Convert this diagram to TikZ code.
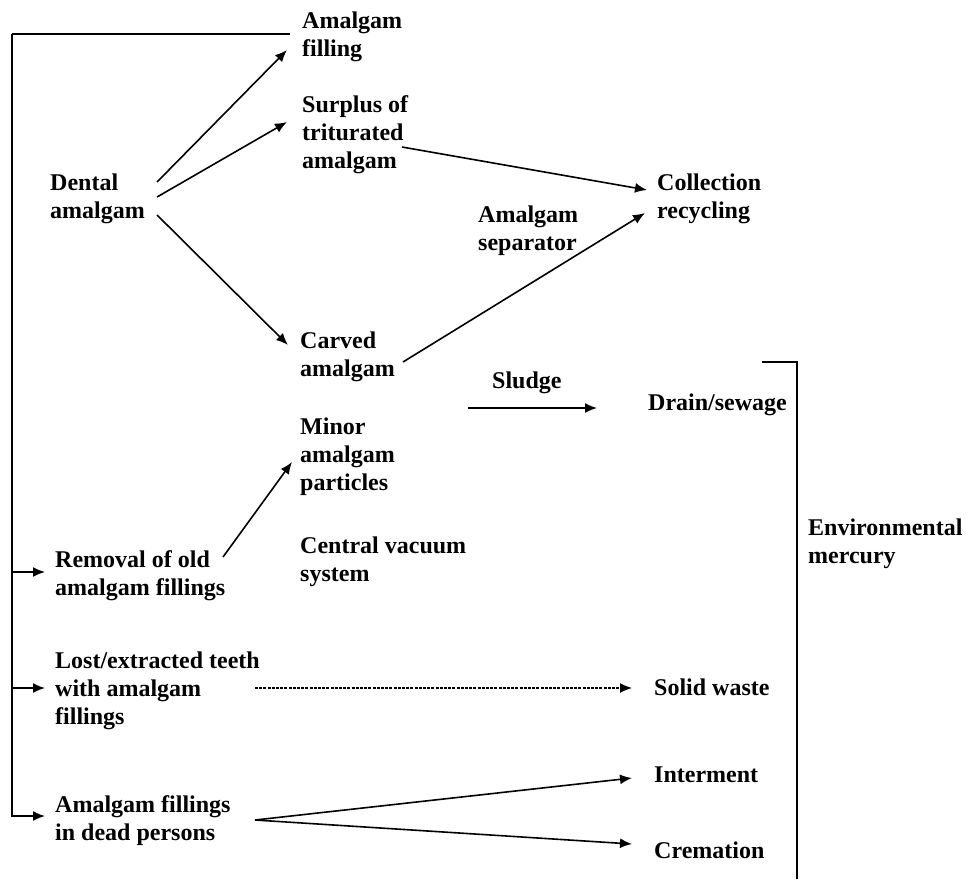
\documentclass[tikz,border=0pt]{standalone}
\usepackage{fontspec}
\setmainfont{Liberation Serif}
\usetikzlibrary{arrows.meta}

\begin{document}
\begin{tikzpicture}[x=1pt,y=-1pt,>={Latex[length=12pt,width=10pt]},
  lbl/.style={font=\bfseries\fontsize{24}{28}\selectfont,align=left,inner sep=0pt,anchor=west},
  flow/.style={->,line width=1.6pt},
  thin/.style={line width=1.6pt}]
  \useasboundingbox (0,0) rectangle (966,879);
  % sources and products
  \node[lbl] (dental) at (50,199) {Dental\\amalgam};
  \node[lbl] (filling) at (302,37) {Amalgam\\filling};
  \node[lbl] (surplus) at (302,135) {Surplus of\\triturated\\amalgam};
  \node[lbl] (collect) at (657,199) {Collection\\recycling};
  \node[lbl] (separator) at (478,231) {Amalgam\\separator};
  \node[lbl] (carved) at (300,357) {Carved\\amalgam};
  \node[lbl] (sludge) at (492,383) {Sludge};
  \node[lbl] (drain) at (648,405) {Drain/sewage};
  \node[lbl] (minor) at (300,457) {Minor\\amalgam\\particles};
  \node[lbl] (vacuum) at (300,562) {Central vacuum\\system};
  \node[lbl] (removal) at (55,576) {Removal of old\\amalgam fillings};
  \node[lbl] (env) at (808,544) {Environmental\\mercury};
  \node[lbl] (lost) at (55,691) {Lost/extracted teeth\\with amalgam\\fillings};
  \node[lbl] (solid) at (654,687) {Solid waste};
  \node[lbl] (interment) at (654,775) {Interment};
  \node[lbl] (cremation) at (654,850) {Cremation};
  \node[lbl] (dead) at (55,821) {Amalgam fillings\\in dead persons};
  % flows
  \draw[flow] ([shift={(12,-17)}]dental.east) -- ([shift={(-15,13)}]filling.west);
  \draw[flow] ([shift={(12,-2)}]dental.east) -- ([shift={(-15,-13)}]surplus.west);
  \draw[flow] ([shift={(12,16)}]dental.east) -- ([shift={(-12,-12)}]carved.west);
  \draw[flow] ([shift={(100,12)}]surplus.west) -- ([shift={(-10,-9)}]collect.west);
  \draw[flow] ([shift={(103,5)}]carved.west) -- ([shift={(-12,14)}]collect.west);
  \coordinate (sludgein) at (468,408);
  \draw[flow] (sludgein) -- ([shift={(-51,3)}]drain.west);
  \draw[flow] ([shift={(168,-19)}]removal.west) -- ([shift={(-8,5)}]minor.west);
  \draw[flow,line width=1.4pt,dash pattern=on 3pt off 1.2pt] ([shift={(200,-3)}]lost.west) -- ([shift={(-22,1)}]solid.west);
  \draw[flow] ([shift={(200,-1)}]dead.west) -- ([shift={(-22,3)}]interment.west);
  \draw[flow] ([shift={(200,-1)}]dead.west) -- ([shift={(-22,-6)}]cremation.west);
  % left bracket
  \draw[thin] ([shift={(-12,-3)}]filling.west) -- ++(-278,0) coordinate (ltop);
  \coordinate (rin) at ([shift={(-10,-4)}]removal.west);
  \coordinate (lin) at ([shift={(-10,-3)}]lost.west);
  \coordinate (din) at ([shift={(-10,-5)}]dead.west);
  \draw[flow] (ltop) |- (din);
  \draw[flow] (rin -| ltop) -- (rin);
  \draw[flow] (lin -| ltop) -- (lin);
  % right bracket
  \coordinate (envtop) at (762,362);
  \coordinate (envbot) at (797,879);
  \draw[thin] (envtop) -| (envbot);
\end{tikzpicture}
\end{document}
